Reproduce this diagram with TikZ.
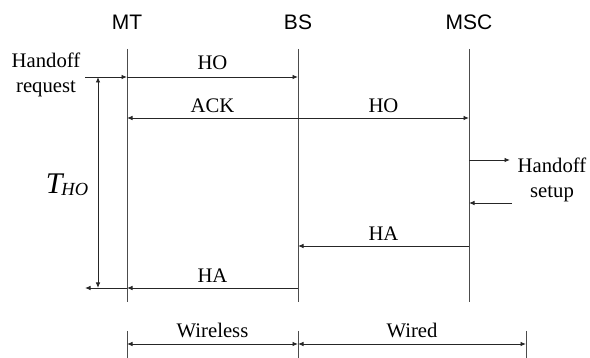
\documentclass[tikz,border=0pt]{standalone}
\usepackage{fontspec}
\setmainfont{Liberation Serif}
\newfontfamily\entfont{Liberation Sans}
\usetikzlibrary{arrows.meta,positioning}

\begin{document}
\begin{tikzpicture}[x=1pt, y=-1pt,
    entity/.style={font=\entfont\fontsize{21}{23}\selectfont, inner sep=0pt},
    msg/.style={font=\fontsize{20.7}{24}\selectfont, inner sep=0pt},
    note/.style={font=\fontsize{20.7}{25}\selectfont, align=center, inner sep=0pt},
    life/.style={draw=black!70, line width=0.9pt},
    arr/.style={-{Latex[length=5.5pt,width=4.5pt]}, draw=black!85, line width=0.9pt},
    darr/.style={{Latex[length=5.5pt,width=4.5pt]}-{Latex[length=5.5pt,width=4.5pt]}, draw=black!85, line width=0.9pt}
]
\useasboundingbox (0,0) rectangle (590,358);

% Entidades y lineas de vida
\foreach \name/\xpos in {MT/127, BS/298, MSC/469} {
    \node[entity] (\name) at (\xpos,22) {\name};
    \coordinate (\name top) at (\xpos,49);
    \coordinate (\name bot) at (\xpos,302);
    \draw[life] (\name top) -- (\name bot);
    % Puntos de cada mensaje sobre la linea
    \foreach \row/\ypos in {ho/77, ack/118, hs1/160, hs2/203, ha1/246, ha2/288}
        \coordinate (\name-\row) at (\xpos,\ypos);
}

% Peticion de handoff
\node[note] (req) at (46,75) {Handoff\\request};
\coordinate (req-end) at (85,77);
\draw[arr] (req-end) -- (MT-ho);
\draw[arr] (MT-ho) -- node[msg, above=7pt] (hoA) {HO} (BS-ho);

% ACK y HO hacia el MSC
\draw[darr] (MT-ack) -- (MSC-ack);
\path (MT-ack) -- node[msg, above=5pt] (ack) {ACK} (BS-ack);
\path (BS-ack) -- node[msg, above=5pt] (hoB) {HO} (MSC-ack);

% Preparacion del handoff en el MSC
\coordinate (hs-out) at (510,160);
\coordinate (hs-in) at (512,203);
\draw[arr] (MSC-hs1) -- (hs-out);
\draw[arr] (hs-in) -- (MSC-hs2);
\node[note] (setup) at (552,180) {Handoff\\setup};

% Respuestas HA
\draw[arr] (MSC-ha1) -- node[msg, above=5pt] (haA) {HA} (BS-ha1);
\draw[arr] (BS-ha2) -- node[msg, above=5pt] (haB) {HA} (MT-ha2);
\coordinate (ha-end) at (85,288);
\draw[arr] (MT-ha2) -- (ha-end);

% Tiempo de handoff
\coordinate (t-top) at (98,77);
\coordinate (t-bot) at (98,288);
\draw[darr] (t-top) -- (t-bot);
\node[inner sep=0pt] (tho) at (67,185)
    {\fontsize{30}{32}\selectfont\itshape T\kern-1pt\raisebox{-2pt}{\fontsize{18.5}{20}\selectfont HO}};

% Tramos inalambrico y cableado
\foreach \name/\xpos in {w0/127, w1/298, w2/526} {
    \draw[life] (\xpos,331) -- (\xpos,358);
    \coordinate (\name) at (\xpos,344);
}
\draw[darr] (w0) -- node[msg, above=6pt] (wless) {Wireless} (w1);
\draw[darr] (w1) -- node[msg, above=6pt] (wired) {Wired} (w2);
\end{tikzpicture}
\end{document}
